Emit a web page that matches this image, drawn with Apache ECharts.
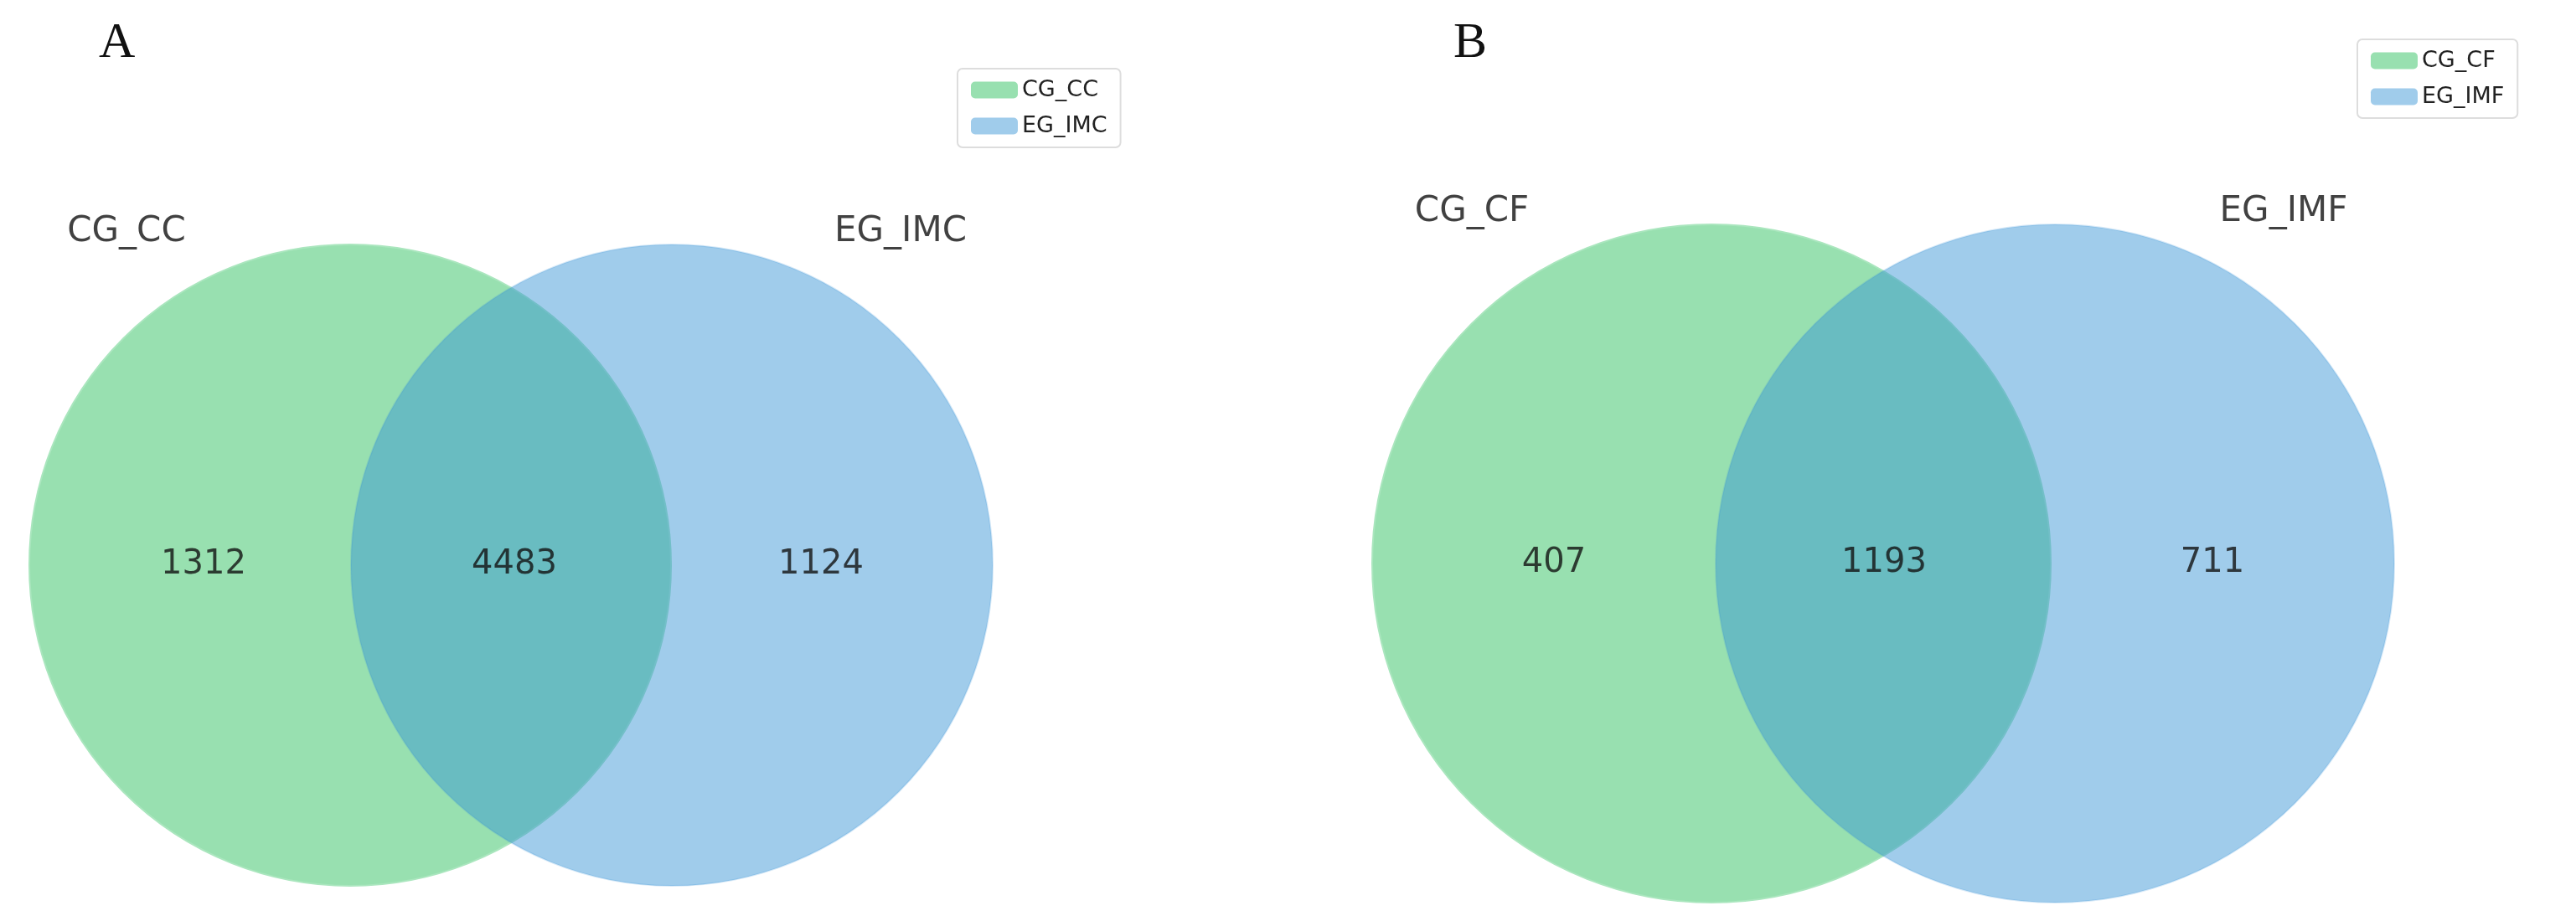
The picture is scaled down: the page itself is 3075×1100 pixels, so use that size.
<!DOCTYPE html>
<html><head><meta charset="utf-8">
<script src="https://cdn.jsdelivr.net/npm/echarts@6/dist/echarts.min.js"></script>
<style>html,body{margin:0;padding:0;background:#fff}#c{width:3075px;height:1100px}</style>
</head><body><div id="c"></div>
<script>
// Panel A
const setNamesA = ['CG_CC', 'EG_IMC'];
const countsA = [1312, 4483, 1124]; // only-left, shared, only-right
// Panel B
const setNamesB = ['CG_CF', 'EG_IMF'];
const countsB = [407, 1193, 711];
// circle layout [cx, cy, r] in canvas units
const circlesA = [[418, 675, 383], [802, 675, 383]];
const circlesB = [[2043, 673, 405], [2453, 673, 405]];
const numPosA = [[243, 675], [614, 675], [980, 675]];
const numPosB = [[1855, 673], [2249, 673], [2641, 673]];
const namePosA = [[151, 277], [1075, 277]];
const namePosB = [[1757, 253], [2726, 253]];

const GREEN = 'rgb(152,224,176)';
const BLUE = 'rgba(53,147,213,0.47)';

function circleSeries(name, c, color, edge) {
  return {
    type: 'custom', name: name, coordinateSystem: 'cartesian2d',
    itemStyle: { color: color },
    data: [c],
    renderItem: function (params, api) {
      const p = api.coord([api.value(0), api.value(1)]);
      const r = api.size([api.value(2), 0])[0];
      return { type: 'circle', shape: { cx: p[0], cy: p[1], r: r },
        style: { fill: color, stroke: edge, lineWidth: 2 } };
    }
  };
}
function textSeries(pts, texts, size) {
  return {
    type: 'scatter', symbolSize: 0, silent: true,
    data: pts.map((p, i) => ({ value: p, label: { formatter: String(texts[i]) } })),
    label: { show: true, position: 'inside', fontSize: size, color: '#111', fontFamily: 'DejaVu Sans' }
  };
}
const option = {
  animation: false,
  grid: { left: 0, right: 0, top: 0, bottom: 0 },
  xAxis: { type: 'value', min: 0, max: 3075, show: false },
  yAxis: { type: 'value', min: 0, max: 1100, inverse: true, show: false },
  legend: [
    { data: setNamesA, orient: 'vertical', left: 1143, top: 82, itemWidth: 56, itemHeight: 20, itemGap: 16,
      padding: [12, 16], borderColor: '#ddd', borderWidth: 2, borderRadius: 6,
      textStyle: { fontSize: 27, fontFamily: 'DejaVu Sans', color: '#222' } },
    { data: setNamesB, orient: 'vertical', left: 2814, top: 47, itemWidth: 56, itemHeight: 20, itemGap: 16,
      padding: [12, 16], borderColor: '#ddd', borderWidth: 2, borderRadius: 6,
      textStyle: { fontSize: 27, fontFamily: 'DejaVu Sans', color: '#222' } }
  ],
  series: [
    circleSeries(setNamesA[0], circlesA[0], GREEN, 'rgb(170,230,190)'),
    circleSeries(setNamesA[1], circlesA[1], BLUE, 'rgba(53,147,213,0.2)'),
    circleSeries(setNamesB[0], circlesB[0], GREEN, 'rgb(170,230,190)'),
    circleSeries(setNamesB[1], circlesB[1], BLUE, 'rgba(53,147,213,0.2)'),
    textSeries(numPosA, countsA, 40),
    textSeries(numPosB, countsB, 40),
    textSeries(namePosA, setNamesA, 42),
    textSeries(namePosB, setNamesB, 42)
  ],
  graphic: [
    { type: 'text', left: 118, top: 22, style: { text: 'A', fontSize: 60, fontFamily: 'Liberation Serif', fill: '#111' } },
    { type: 'text', left: 1735, top: 22, style: { text: 'B', fontSize: 60, fontFamily: 'Liberation Serif', fill: '#111' } }
  ]
};
echarts.init(document.getElementById('c')).setOption(option);
</script></body></html>
